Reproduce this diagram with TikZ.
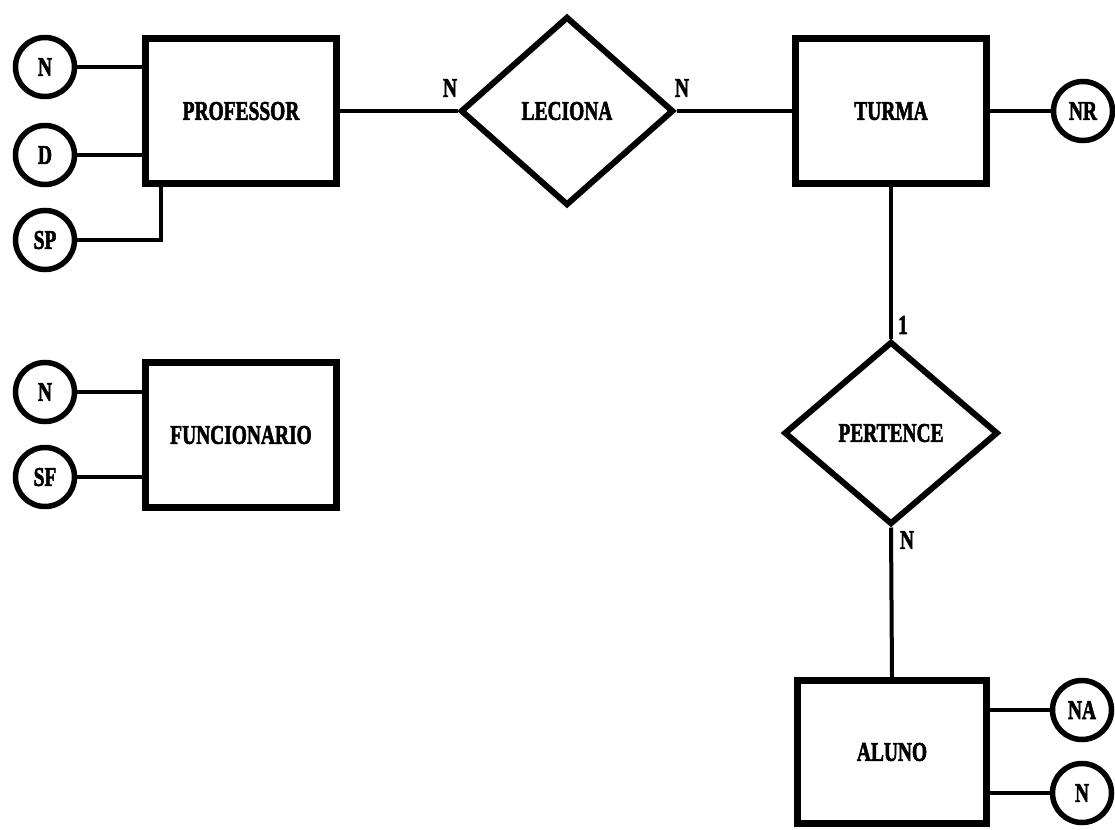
\documentclass[tikz,border=0pt]{standalone}
\usepackage{fontspec}
\setmainfont{Liberation Serif}
\newfontfamily\heavyfont[BoldFeatures={FakeBold=2.5}]{Liberation Serif}
\usepackage{graphicx}
\usetikzlibrary{shapes.geometric}
\newcommand{\lbl}[1]{\scalebox{0.72}[1]{\fontsize{27}{27}\heavyfont\bfseries #1}}
\tikzset{
  entity/.style={draw, line width=6.5pt, rectangle, minimum width=191pt, minimum height=145pt, inner sep=0pt},
  relation/.style={draw, line width=6pt, diamond, inner sep=0pt},
  attrib/.style={draw, line width=5.5pt, circle, minimum size=59pt, inner sep=0pt},
  link/.style={line width=4pt},
  card/.style={inner sep=0pt}
}
\begin{document}
\begin{tikzpicture}[x=1pt,y=-1pt]
\useasboundingbox (0,0) rectangle (1115,829);
% entities
\node[entity] (prof) at (241,111) {\lbl{PROFESSOR}};
\node[entity] (func) at (241,435) {\lbl{FUNCIONARIO}};
\node[entity] (turma) at (891,111) {\lbl{TURMA}};
\node[entity, minimum height=143pt, minimum width=189pt] (aluno) at (892,752) {\lbl{ALUNO}};
% relationships
\node[relation, minimum width=213pt, minimum height=189pt] (lec) at (567,111) {\lbl{LECIONA}};
\node[relation, minimum width=214pt, minimum height=183pt] (pert) at (891,433) {\lbl{PERTENCE}};
% attributes
\node[attrib] (aN) at (45,67) {\lbl{N}};
\node[attrib] (aD) at (45,155) {\lbl{D}};
\node[attrib] (aSP) at (45,240) {\lbl{SP}};
\node[attrib] (fN) at (45,392) {\lbl{N}};
\node[attrib] (fSF) at (45,477) {\lbl{SF}};
\node[attrib] (tNR) at (1083,111) {\lbl{NR}};
\node[attrib] (alNA) at (1082,710) {\lbl{NA}};
\node[attrib] (alN) at (1082,793) {\lbl{N}};
% connectors
\draw[link] (aN.east) -- (aN.east -| prof.west);
\draw[link] (aD.east) -- (aD.east -| prof.west);
\draw[link] (aSP.east) -| ([xshift=19pt]prof.south west);
\draw[link] (fN.east) -- (fN.east -| func.west);
\draw[link] (fSF.east) -- (fSF.east -| func.west);
\draw[link] (prof.east) -- (lec.west);
\draw[link] (lec.east) -- (turma.west);
\draw[link] (turma.east) -- (tNR.west);
\draw[link] (turma.south) -- (pert.north);
\draw[link] (pert.south) -- (aluno.north);
\draw[link] (alNA.west -| aluno.east) -- (alNA.west);
\draw[link] (alN.west -| aluno.east) -- (alN.west);
% cardinalities
\node[card] (c1) at (450,88) {\lbl{N}};
\node[card] (c2) at (682,88) {\lbl{N}};
\node[card] (c3) at (903,325) {\lbl{1}};
\node[card] (c4) at (907,540) {\lbl{N}};
\end{tikzpicture}
\end{document}
